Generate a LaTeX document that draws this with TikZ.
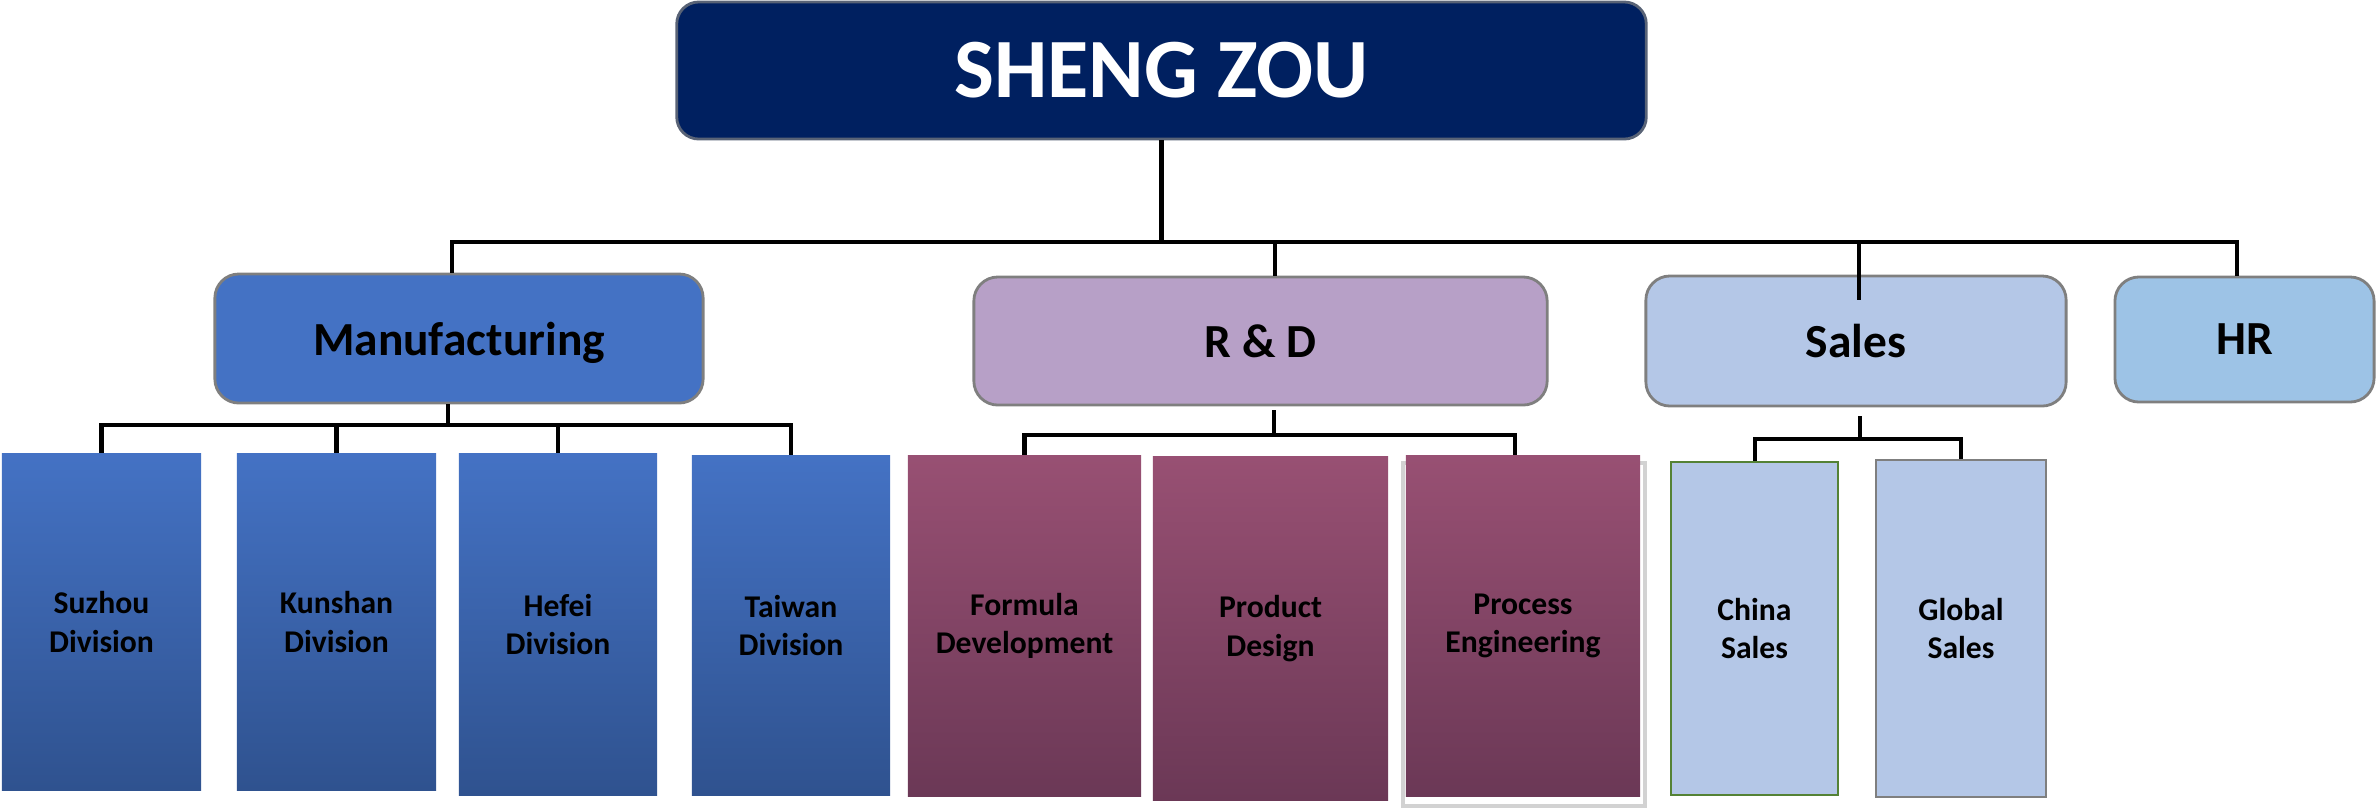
\documentclass[tikz,border=0pt]{standalone}
\usepackage{fontspec}
\setmainfont{Carlito}

\definecolor{navy}{RGB}{0,32,96}
\definecolor{mfgblue}{RGB}{68,114,196}
\definecolor{mfgdark}{RGB}{47,82,143}
\definecolor{rdlilac}{RGB}{183,160,199}
\definecolor{rdtop}{RGB}{152,80,115}
\definecolor{rdbot}{RGB}{107,56,86}
\definecolor{salesblue}{RGB}{180,199,231}
\definecolor{hrblue}{RGB}{157,195,230}
\definecolor{edge}{RGB}{127,127,127}
\definecolor{chinagreen}{RGB}{84,130,53}

\tikzset{
    link/.style={line width=1.15pt},
    head/.style={draw=edge!70!navy, line width=0.8pt, fill=navy, rounded corners=0.22cm,
        text=white, inner sep=0pt, font=\fontsize{24}{28}\selectfont\bfseries},
    dept/.style={draw=edge, line width=0.8pt, rounded corners=0.24cm, inner sep=0pt, text depth=0pt,
        font=\fontsize{13.5}{16}\selectfont\bfseries},
    unit/.style={inner sep=0pt, align=center, font=\fontsize{9}{11}\selectfont\bfseries},
    mfgunit/.style={unit, top color=mfgblue, bottom color=mfgdark},
    rdunit/.style={unit, top color=rdtop, bottom color=rdbot},
    salesunit/.style={unit, fill=salesblue, line width=0.6pt}
}

\begin{document}
\begin{tikzpicture}[x=0.01cm, y=-0.01cm]
        \useasboundingbox (0,0) rectangle (2376,811);

        \node[head, minimum width=9.69cm, minimum height=1.37cm] (top) at (1161.5,70.5) {SHENG ZOU};

        \node[dept, fill=mfgblue, minimum width=4.88cm, minimum height=1.29cm] (mfg) at (459,338.5) {Manufacturing};
        \node[dept, fill=rdlilac, minimum width=5.73cm, minimum height=1.28cm] (rd) at (1260.5,341) {R \& D};
        \node[dept, fill=salesblue, minimum width=4.2cm, minimum height=1.3cm] (sales) at (1856,341) {Sales};
        \node[dept, fill=hrblue, minimum width=2.59cm, minimum height=1.25cm] (hr) at (2244.5,339.5) {HR};

        \draw[link] (top.south) -- ++(0,102) coordinate (bus);
        \draw[link] ([xshift=-0.07cm]mfg.north) |- (bus) -| ([xshift=-0.08cm]hr.north);
        \draw[link] (bus) -| ([xshift=0.14cm]rd.north);
        \draw[link] (bus) -| ([xshift=0.03cm, yshift=-0.25cm]sales.north);

        \node[mfgunit, minimum width=1.99cm, minimum height=3.36cm] (suzhou) at (101.5,622) {Suzhou\\Division};
        \node[mfgunit, minimum width=1.99cm, minimum height=3.36cm] (kunshan) at (336.5,622) {Kunshan\\Division};
        \node[mfgunit, minimum width=1.98cm, minimum height=3.41cm] (hefei) at (558,624.5) {Hefei\\Division};
        \node[mfgunit, minimum width=1.98cm, minimum height=3.39cm] (taiwan) at (791,625.5) {Taiwan\\Division};

        \draw[link] ([xshift=-0.11cm]mfg.south) -- ++(0,21) coordinate (mbus);
        \draw[link] (suzhou.north) |- (mbus) -| (taiwan.north);
        \draw[link] (mbus) -| (kunshan.north);
        \draw[link] (mbus) -| (hefei.north);

        \draw[gray!35, line width=1.2pt, fill=white] (1403,463) rectangle (1645,806);

        \node[rdunit, minimum width=2.33cm, minimum height=3.4cm] (formula) at (1024.5,626) {Formula\\Development};
        \node[rdunit, minimum width=2.35cm, minimum height=3.43cm] (product) at (1270.5,628.5) {Product\\Design};
        \node[rdunit, minimum width=2.34cm, minimum height=3.4cm] (process) at (1523,626) {Process\\Engineering};

        \draw[link] ([xshift=0.13cm, yshift=-0.04cm]rd.south) -- ++(0,25) coordinate (rbus);
        \draw[link] (formula.north) |- (rbus) -| ([xshift=-0.08cm]process.north);

        \node[salesunit, draw=chinagreen, minimum width=1.67cm, minimum height=3.33cm] (china) at (1754.5,628.5) {China\\Sales};
        \node[salesunit, draw=edge, minimum width=1.7cm, minimum height=3.37cm] (global) at (1961,628.5) {Global\\Sales};

        \draw[link] ([xshift=0.04cm, yshift=-0.09cm]sales.south) -- ++(0,23) coordinate (sbus);
        \draw[link] (china.north) |- (sbus) -| (global.north);
\end{tikzpicture}
\end{document}
